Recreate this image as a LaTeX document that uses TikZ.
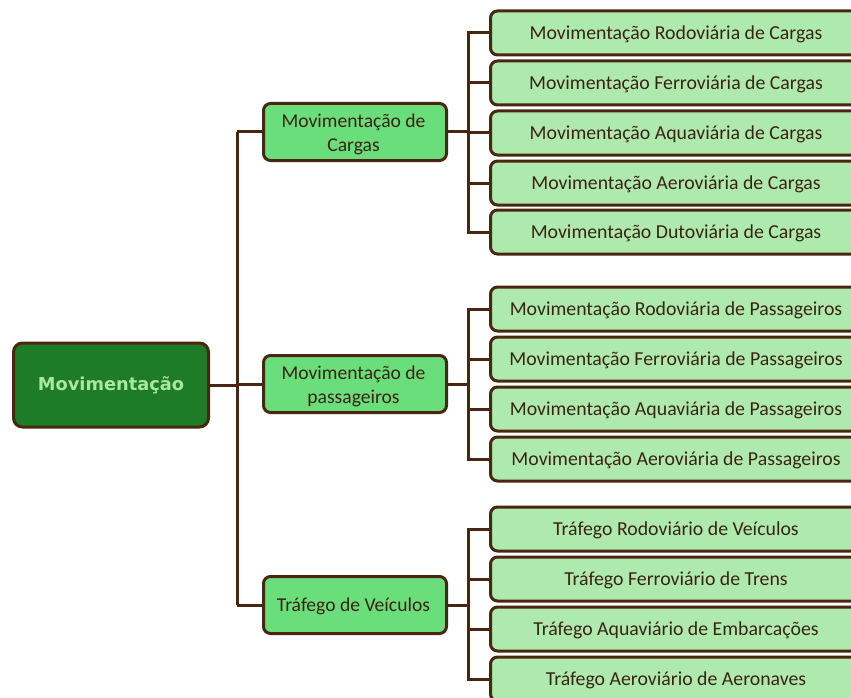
\documentclass[tikz,border=0pt]{standalone}
\usepackage{fontspec}
\setmainfont{Carlito}
\newfontfamily\mainboldfont{DejaVu Sans}
\definecolor{brd}{HTML}{4A2511}
\definecolor{txt}{HTML}{3B2314}
\definecolor{rootfill}{HTML}{1E7B27}
\definecolor{roottxt}{HTML}{A8E8A0}
\definecolor{midfill}{HTML}{6ADE7A}
\definecolor{leaffill}{HTML}{AEEAAE}
\tikzset{
  rootbox/.style={draw=brd, line width=3pt, rounded corners=9pt, fill=rootfill, minimum width=195pt, minimum height=84pt, text=roottxt, font=\mainboldfont\bfseries\fontsize{17.8}{20}\selectfont, anchor=west},
  midbox/.style={draw=brd, line width=3pt, rounded corners=7pt, fill=midfill, minimum width=183pt, minimum height=57pt, anchor=west},
  midtext/.style={text=txt, align=center, font=\fontsize{19.6}{24}\selectfont},
  leafbox/.style={draw=brd, line width=3pt, rounded corners=7pt, fill=leaffill, minimum width=380pt, minimum height=44pt, anchor=west},
  leaftext/.style={text=txt, font=\fontsize{19.8}{22}\selectfont},
  conn/.style={draw=brd, line width=3pt}
}
\begin{document}
\begin{tikzpicture}[x=1pt,y=-1pt]
\clip (0,0) rectangle (851,698);
\fill[white] (0,0) rectangle (851,698);
% root
\node[rootbox] (root) at (12,385) {Movimentação};
% mid
\node[midbox] (m1) at (262,132) {};
\node[midtext] (mt1) at (353.5,134) {Movimentação de\\Cargas};
\node[midbox] (m2) at (262,384) {};
\node[midtext] (mt2) at (353.5,386) {Movimentação de\\passageiros};
\node[midbox] (m3) at (262,605) {};
\node[midtext] (mt3) at (353.5,606) {Tráfego de Veículos};
% trunk coordinates
\coordinate (t1) at (237,132);
\coordinate (t3) at (237,605);
\coordinate (t2) at (237,385);
\draw[conn] (root.east) -- (t2);
\draw[conn] (t1) -- (t3);
\draw[conn] (t1) -- (m1.west);
\draw[conn] (t3) -- (m3.west);
\draw[conn] (237,384) -- (m2.west);
% leaves
\foreach \i/\y/\t in {1/33/Movimentação Rodoviária de Cargas,2/83/Movimentação Ferroviária de Cargas,3/133/Movimentação Aquaviária de Cargas,4/183/Movimentação Aeroviária de Cargas,5/232/Movimentação Dutoviária de Cargas}{
  \node[leafbox] (a\i) at (489,\y) {};
  \node[leaftext] (at\i) at (676,\y+1) {\t};
}
\foreach \i/\y/\t in {1/309/Movimentação Rodoviária de Passageiros,2/359/Movimentação Ferroviária de Passageiros,3/409/Movimentação Aquaviária de Passageiros,4/459/Movimentação Aeroviária de Passageiros}{
  \node[leafbox] (b\i) at (489,\y) {};
  \node[leaftext] (bt\i) at (676,\y+1) {\t};
}
\foreach \i/\y/\t in {1/529/Tráfego Rodoviário de Veículos,2/579/Tráfego Ferroviário de Trens,3/629/Tráfego Aquaviário de Embarcações,4/679/Tráfego Aeroviário de Aeronaves}{
  \node[leafbox] (c\i) at (489,\y) {};
  \node[leaftext] (ct\i) at (676,\y+1) {\t};
}
% sub-trunks
\coordinate (s1) at (468,132);
\coordinate (s2) at (468,384);
\coordinate (s3) at (468,605);
\draw[conn] (m1.east) -- (s1);
\draw[conn] (m2.east) -- (s2);
\draw[conn] (m3.east) -- (s3);
\draw[conn] (a1.west) -| (468,232) -- (a5.west);
\foreach \i in {2,3,4}{\draw[conn] (468,0 |- a\i.west) -- (a\i.west);}
\draw[conn] (b1.west) -| (468,459) -- (b4.west);
\foreach \i in {2,3}{\draw[conn] (468,0 |- b\i.west) -- (b\i.west);}
\draw[conn] (c1.west) -| (468,679) -- (c4.west);
\foreach \i in {2,3}{\draw[conn] (468,0 |- c\i.west) -- (c\i.west);}
\end{tikzpicture}
\end{document}
